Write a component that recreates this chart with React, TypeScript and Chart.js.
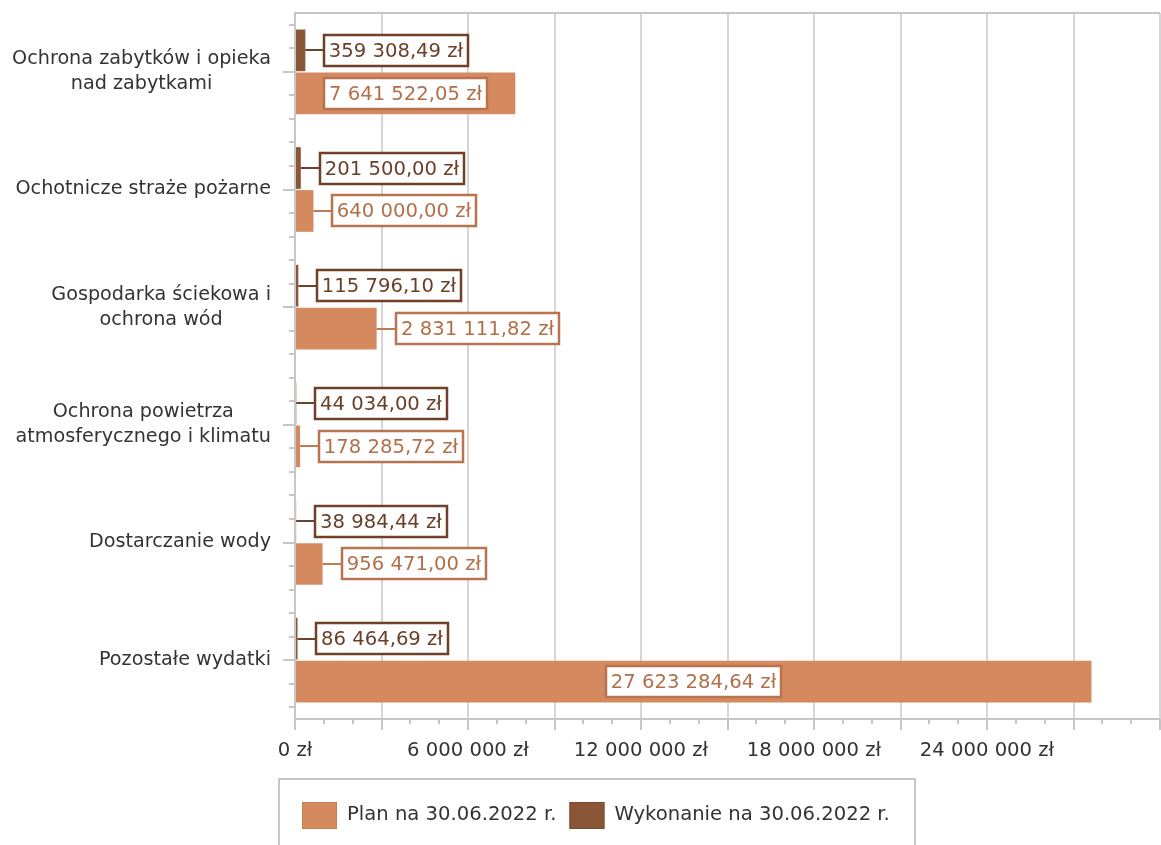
import React, { useEffect, useRef } from 'react';
import { Chart, registerables } from 'chart.js';

Chart.register(...registerables);

const categories: string[][] = [
  ['Ochrona zabytków i opieka', 'nad zabytkami'],
  ['Ochotnicze straże pożarne'],
  ['Gospodarka ściekowa i', 'ochrona wód'],
  ['Ochrona powietrza', 'atmosferycznego i klimatu'],
  ['Dostarczanie wody'],
  ['Pozostałe wydatki'],
];
const planValues = [7641522.05, 640000.0, 2831111.82, 178285.72, 956471.0, 27623284.64];
const wykonanieValues = [359308.49, 201500.0, 115796.1, 44034.0, 38984.44, 86464.69];
const planLabel = 'Plan na 30.06.2022 r.';
const wykonanieLabel = 'Wykonanie na 30.06.2022 r.';
const xTickLabelValues = [0, 6000000, 12000000, 18000000, 24000000];
const xMax = 30000000;

const FONT = '"DejaVu Sans", Verdana, sans-serif';
const TEXT = '#333333';
const AXIS = '#c6c6c6';
const GRID = '#d6d6d6';

const PLAN_COLOR = '#d5895f';
const WYK_COLOR = '#8b5637';
const PLAN_BORDER = '#b8744f';
const WYK_BORDER = '#6e4128';
const PLAN_TEXT = '#b36f49';
const WYK_TEXT = '#6b3f27';

function groupThousands(s: string) {
  return s.replace(/\B(?=(\d{3})+(?!\d))/g, ' ');
}
function fmtMoney(v: number) {
  const [i, d] = v.toFixed(2).split('.');
  return groupThousands(i) + ',' + d + ' zł';
}
function fmtInt(v: number) {
  return groupThousands(String(Math.round(v))) + ' zł';
}

const decorPlugin = {
  id: 'decor',
  beforeDatasetsDraw(chart: any) {
    const { ctx, chartArea } = chart;
    const { left, right, top, bottom } = chartArea;
    const xs = chart.scales.x;
    const ys = chart.scales.y;
    ctx.save();
    ctx.strokeStyle = AXIS;
    ctx.lineWidth = 2;
    ctx.beginPath();
    ctx.moveTo(left, top);
    ctx.lineTo(right, top);
    ctx.stroke();
    for (let v = 0; v <= xMax; v += 1000000) {
      const px = Math.round(xs.getPixelForValue(v));
      const major = v % 3000000 === 0;
      ctx.beginPath();
      ctx.moveTo(px, bottom);
      ctx.lineTo(px, bottom + (major ? 11 : 5));
      ctx.stroke();
    }
    const catH = (bottom - top) / categories.length;
    categories.forEach((_, i) => {
      const c = ys.getPixelForValue(i);
      for (let k = -2; k <= 2; k++) {
        const py = Math.round(c + (k * catH) / 5);
        ctx.beginPath();
        ctx.moveTo(left, py);
        ctx.lineTo(left - (k === 0 ? 12 : 6), py);
        ctx.stroke();
      }
    });
    ctx.beginPath();
    ctx.moveTo(left, top - 1);
    ctx.lineTo(left, bottom + 1);
    ctx.moveTo(left - 1, bottom);
    ctx.lineTo(right, bottom);
    ctx.stroke();

    ctx.font = `19.2px ${FONT}`;
    ctx.fillStyle = TEXT;
    ctx.textAlign = 'center';
    ctx.textBaseline = 'middle';
    categories.forEach((lines, i) => {
      const c = ys.getPixelForValue(i);
      const maxW = Math.max(...lines.map((l) => ctx.measureText(l).width));
      const cx = 271 - maxW / 2;
      lines.forEach((l, j) => {
        ctx.fillText(l, cx, c + (j - (lines.length - 1) / 2) * 25);
      });
    });
    ctx.restore();
  },
  afterDatasetsDraw(chart: any) {
    const { ctx } = chart;
    const styles = [
      { border: WYK_BORDER, text: WYK_TEXT, line: WYK_BORDER },
      { border: PLAN_BORDER, text: PLAN_TEXT, line: '#bf7a52' },
    ];
    ctx.save();
    ctx.font = `19.6px ${FONT}`;
    ctx.textBaseline = 'middle';
    ctx.textAlign = 'center';
    chart.data.datasets.forEach((ds: any, di: number) => {
      const meta = chart.getDatasetMeta(di);
      const st = styles[di];
      meta.data.forEach((bar: any, i: number) => {
        const { x, y, base } = bar.getProps(['x', 'y', 'base'], true);
        const text = fmtMoney(ds.data[i]);
        const tw = ctx.measureText(text).width;
        const bw = Math.round(tw + 10);
        const bh = 31;
        const barLen = x - base;
        let bx: number;
        if (barLen > bw + 20) {
          bx = Math.round(base + barLen / 2 - bw / 2);
        } else {
          bx = Math.round(x + 19);
          ctx.strokeStyle = st.line;
          ctx.lineWidth = 2;
          ctx.beginPath();
          ctx.moveTo(x, Math.round(y));
          ctx.lineTo(bx, Math.round(y));
          ctx.stroke();
        }
        const by = Math.round(y - bh / 2);
        ctx.fillStyle = '#ffffff';
        ctx.fillRect(bx, by, bw, bh);
        ctx.strokeStyle = st.border;
        ctx.lineWidth = 2.5;
        ctx.strokeRect(bx, by, bw, bh);
        ctx.fillStyle = st.text;
        ctx.fillText(text, bx + bw / 2, by + bh / 2 + 1);
      });
    });
    ctx.restore();
  },
  afterDraw(chart: any) {
    const { ctx } = chart;
    ctx.save();
    ctx.strokeStyle = AXIS;
    ctx.lineWidth = 2;
    ctx.strokeRect(279, 779, 636, 80);
    const items = [
      { label: planLabel, color: PLAN_COLOR, border: '#c77c52' },
      { label: wykonanieLabel, color: WYK_COLOR, border: '#7a4a2e' },
    ];
    ctx.font = `19.6px ${FONT}`;
    ctx.textBaseline = 'middle';
    ctx.textAlign = 'left';
    let x = 302;
    const cy = 815;
    items.forEach((it) => {
      ctx.fillStyle = it.color;
      ctx.fillRect(x, cy - 13, 35, 27);
      ctx.strokeStyle = it.border;
      ctx.lineWidth = 1;
      ctx.strokeRect(x + 0.5, cy - 12.5, 34, 26);
      ctx.fillStyle = TEXT;
      ctx.fillText(it.label, x + 45, cy);
      x += 45 + ctx.measureText(it.label).width + 13;
    });
    ctx.restore();
  },
};

export default function App() {
  const ref = useRef<HTMLCanvasElement | null>(null);
  useEffect(() => {
    if (!ref.current) return;
    const chart = new Chart(ref.current, {
      type: 'bar',
      data: {
        labels: categories.map((c) => c.join(' ')),
        datasets: [
          {
            label: wykonanieLabel,
            data: wykonanieValues,
            backgroundColor: WYK_COLOR,
            categoryPercentage: 0.73,
            barPercentage: 0.97,
          },
          {
            label: planLabel,
            data: planValues,
            backgroundColor: PLAN_COLOR,
            categoryPercentage: 0.73,
            barPercentage: 0.97,
          },
        ],
      },
      options: {
        indexAxis: 'y',
        animation: false,
        responsive: true,
        maintainAspectRatio: false,
        layout: { padding: { top: 13, right: 1, bottom: 0, left: 0 } },
        plugins: {
          legend: { display: false },
          tooltip: { enabled: false },
        },
        scales: {
          x: {
            min: 0,
            max: xMax,
            afterFit: (s: any) => {
              s.height = 126;
              s.paddingLeft = 0;
              s.paddingRight = 0;
            },
            border: { display: false },
            grid: {
              drawTicks: false,
              lineWidth: 2,
              color: (c: any) =>
                c.tick && c.tick.value !== 0 && c.tick.value % 3000000 === 0 ? GRID : 'rgba(0,0,0,0)',
            },
            ticks: {
              stepSize: 1000000,
              autoSkip: false,
              maxRotation: 0,
              minRotation: 0,
              padding: 20,
              color: TEXT,
              font: { family: FONT, size: 19.6 },
              callback: (v: any) => (xTickLabelValues.includes(Number(v)) ? fmtInt(Number(v)) : ''),
            },
          },
          y: {
            afterFit: (s: any) => {
              s.width = 295;
            },
            border: { display: false },
            grid: { display: false },
            ticks: { display: false },
          },
        },
      },
      plugins: [decorPlugin],
    });
    return () => chart.destroy();
  }, []);
  return (
    <div style={{ position: 'fixed', left: 0, top: 0, width: 1161, height: 845, background: '#fff' }}>
      <canvas ref={ref} />
    </div>
  );
}
